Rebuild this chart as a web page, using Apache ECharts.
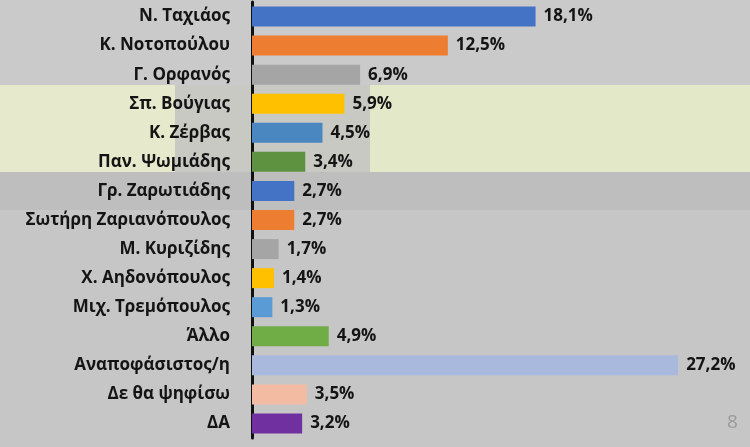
<!DOCTYPE html>
<html>
<head>
<meta charset="utf-8">
<script src="https://cdn.jsdelivr.net/npm/echarts@6/dist/echarts.min.js"></script>
<style>
html,body{margin:0;padding:0;background:#c8c8c8;}
#c{width:750px;height:447px;}
</style>
</head>
<body>
<div id="c"></div>
<script>
const categories = ["Ν. Ταχιάος","Κ. Νοτοπούλου","Γ. Ορφανός","Σπ. Βούγιας","Κ. Ζέρβας","Παν. Ψωμιάδης","Γρ. Ζαρωτιάδης","Σωτήρη Ζαριανόπουλος","Μ. Κυριζίδης","Χ. Αηδονόπουλος","Μιχ. Τρεμόπουλος","Άλλο","Αναποφάσιστος/η","Δε θα ψηφίσω","ΔΑ"];
const values = [18.1,12.5,6.9,5.9,4.5,3.4,2.7,2.7,1.7,1.4,1.3,4.9,27.2,3.5,3.2];
const colors = ["#4472C4","#ED7D31","#A5A5A5","#FFC000","#4A86C0","#5E9140","#4472C4","#ED7D31","#A5A5A5","#FFC000","#5B9BD5","#70AD47","#A9B9DE","#F4BBA3","#7030A0"];

const chart = echarts.init(document.getElementById('c'));
chart.setOption({
  backgroundColor: '#c8c8c8',
  animation: false,
  graphic: [
    {type:'rect', z:-10, shape:{x:0,y:0,width:750,height:85}, style:{fill:'#cacaca'}},
    {type:'rect', z:-10, shape:{x:0,y:85,width:175,height:87}, style:{fill:'#e6e9cb'}},
    {type:'rect', z:-10, shape:{x:175,y:85,width:195,height:87}, style:{fill:'#c9c9c4'}},
    {type:'rect', z:-10, shape:{x:370,y:85,width:380,height:87}, style:{fill:'#e3e8c9'}},
    {type:'rect', z:-10, shape:{x:0,y:172,width:750,height:38}, style:{fill:'#bebebe'}},
    {type:'rect', z:-10, shape:{x:0,y:210,width:750,height:237}, style:{fill:'#c6c6c6'}},
    {type:'text', left:727, top:413, style:{text:'8', fill:'#9a9a9a', font:'19px "Open Sans"'}}
  ],
  grid: {left:252, right:28, top:2, bottom:9, containLabel:false},
  xAxis: {type:'value', min:0, max:30, show:false},
  yAxis: {
    type:'category', data:categories, inverse:true,
    axisLine:{show:true, lineStyle:{color:'#111', width:3}},
    axisTick:{show:false},
    axisLabel:{color:'#141414', fontSize:17, fontWeight:'bold', fontFamily:'"Open Sans"', margin:22}
  },
  series: [{
    type:'bar', barWidth:20,
    data: values.map((v,i)=>({value:v, itemStyle:{color:colors[i]}})),
    label:{show:true, position:'right', distance:8, color:'#141414', fontSize:17, fontWeight:'bold', fontFamily:'"Open Sans"',
      formatter: p => p.value.toFixed(1).replace('.', ',') + '%'}
  }]
});
</script>
</body>
</html>
